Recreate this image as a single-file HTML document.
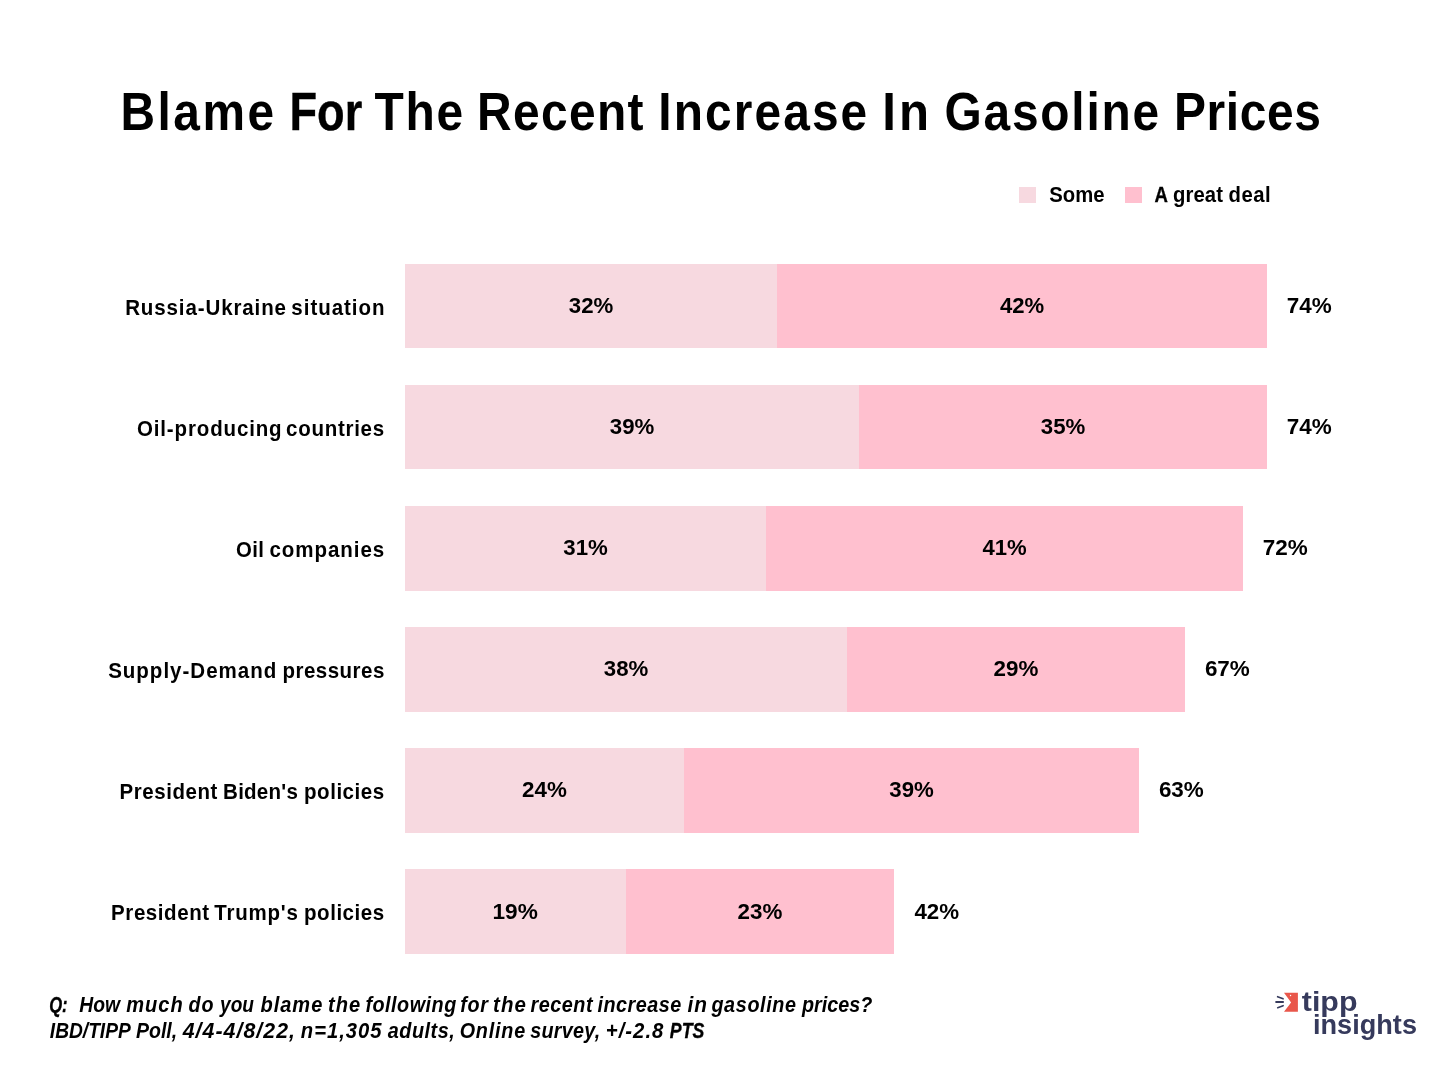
<!DOCTYPE html>
<html lang="en">
<head>
<meta charset="utf-8">
<title>Blame For The Recent Increase In Gasoline Prices</title>
<style>
html,body{margin:0;padding:0;background:#fff;}
body{width:1440px;height:1080px;position:relative;overflow:hidden;font-family:"Liberation Sans",sans-serif;color:#000;}
.g{position:absolute;left:0;top:0;width:0;height:0;margin:0;padding:0;font-size:0;line-height:0;font-weight:700;}
.t{position:absolute;left:0;white-space:nowrap;line-height:1;font-weight:700;margin:0;padding:0;transform-origin:0 0;}
.bar{position:absolute;}
.light{background:#F7D9E0;}
.dark{background:#FFC0CF;}
.foot{font-style:italic;}
.logo{color:#363a5c;}
svg{position:absolute;overflow:visible;}
</style>
</head>
<body>
<h1 class="g title"><span class="t" id="title_0" style="top:85px;font-size:53.2px;letter-spacing:2.80px;transform:translateX(120.42px) scaleX(0.8991);">Blame</span> <span class="t" id="title_1" style="top:85px;font-size:53.2px;transform:translateX(289.42px) scaleX(0.8503);-webkit-text-stroke:0.35px currentColor;">For</span> <span class="t" id="title_2" style="top:85px;font-size:53.2px;letter-spacing:1.93px;transform:translateX(374.55px) scaleX(0.9010);">The</span> <span class="t" id="title_3" style="top:85px;font-size:53.2px;letter-spacing:1.46px;transform:translateX(477.05px) scaleX(0.9017);">Recent</span> <span class="t" id="title_4" style="top:85px;font-size:53.2px;letter-spacing:2.33px;transform:translateX(658.35px) scaleX(0.8996);">Increase</span> <span class="t" id="title_5" style="top:85px;font-size:53.2px;letter-spacing:3.46px;transform:translateX(882.22px) scaleX(0.9246);">In</span> <span class="t" id="title_6" style="top:85px;font-size:53.2px;letter-spacing:1.99px;transform:translateX(944.48px) scaleX(0.8998);">Gasoline</span> <span class="t" id="title_7" style="top:85px;font-size:53.2px;letter-spacing:0.69px;transform:translateX(1173.99px) scaleX(0.9010);">Prices</span></h1>
<div class="legend">
<div class="bar light" style="left:1019px;top:187px;width:17px;height:16px"></div>
<span class="g lg"><span class="t" id="lg1_0" style="top:184px;font-size:22.0px;letter-spacing:0.05px;transform:translateX(1049.20px) scaleX(0.9214);">Some</span></span>
<div class="bar dark" style="left:1125px;top:187px;width:17px;height:16px"></div>
<span class="g lg"><span class="t" id="lg2_0" style="top:184px;font-size:22.0px;transform:translateX(1154.58px) scaleX(0.8442);-webkit-text-stroke:0.35px currentColor;">A</span> <span class="t" id="lg2_1" style="top:184px;font-size:22.0px;letter-spacing:0.10px;transform:translateX(1173.02px) scaleX(0.9208);">great</span> <span class="t" id="lg2_2" style="top:184px;font-size:22.0px;letter-spacing:0.59px;transform:translateX(1228.52px) scaleX(0.9214);">deal</span></span>
</div>
<div class="row">
<div class="g cat"><span class="t" id="cat0_0" style="top:297px;font-size:22.3px;letter-spacing:0.95px;transform:translateX(125.16px) scaleX(0.9209);">Russia-Ukraine</span> <span class="t" id="cat0_1" style="top:297px;font-size:22.3px;letter-spacing:1.05px;transform:translateX(291.37px) scaleX(0.9192);">situation</span></div>
<div class="bar light" style="left:405px;top:264px;width:372px;height:84px"></div>
<div class="bar dark" style="left:777px;top:264px;width:490px;height:84px"></div>
<div class="g val"><span class="t" id="va0_0" style="top:295px;font-size:21.8px;transform:translateX(568.79px) scaleX(1.0200);">32%</span></div>
<div class="g val"><span class="t" id="vb0_0" style="top:295px;font-size:21.8px;transform:translateX(1000.04px) scaleX(1.0140);">42%</span></div>
<div class="g val"><span class="t" id="vt0_0" style="top:295px;font-size:21.8px;transform:translateX(1286.87px) scaleX(1.0298);">74%</span></div>
</div>
<div class="row">
<div class="g cat"><span class="t" id="cat1_0" style="top:418px;font-size:22.3px;letter-spacing:0.93px;transform:translateX(136.98px) scaleX(0.9192);">Oil-producing</span> <span class="t" id="cat1_1" style="top:418px;font-size:22.3px;letter-spacing:0.79px;transform:translateX(286.02px) scaleX(0.9195);">countries</span></div>
<div class="bar light" style="left:405px;top:385px;width:454px;height:84px"></div>
<div class="bar dark" style="left:859px;top:385px;width:408px;height:84px"></div>
<div class="g val"><span class="t" id="va1_0" style="top:416px;font-size:21.8px;transform:translateX(609.79px) scaleX(1.0200);">39%</span></div>
<div class="g val"><span class="t" id="vb1_0" style="top:416px;font-size:21.8px;transform:translateX(1040.79px) scaleX(1.0200);">35%</span></div>
<div class="g val"><span class="t" id="vt1_0" style="top:416px;font-size:21.8px;transform:translateX(1286.87px) scaleX(1.0298);">74%</span></div>
</div>
<div class="row">
<div class="g cat"><span class="t" id="cat2_0" style="top:539px;font-size:22.3px;letter-spacing:0.45px;transform:translateX(235.88px) scaleX(0.9133);">Oil</span> <span class="t" id="cat2_1" style="top:539px;font-size:22.3px;letter-spacing:1.00px;transform:translateX(269.52px) scaleX(0.9210);">companies</span></div>
<div class="bar light" style="left:405px;top:506px;width:361px;height:85px"></div>
<div class="bar dark" style="left:766px;top:506px;width:477px;height:85px"></div>
<div class="g val"><span class="t" id="va2_0" style="top:537px;font-size:21.8px;transform:translateX(563.29px) scaleX(1.0200);">31%</span></div>
<div class="g val"><span class="t" id="vb2_0" style="top:537px;font-size:21.8px;transform:translateX(982.54px) scaleX(1.0140);">41%</span></div>
<div class="g val"><span class="t" id="vt2_0" style="top:537px;font-size:21.8px;transform:translateX(1262.87px) scaleX(1.0298);">72%</span></div>
</div>
<div class="row">
<div class="g cat"><span class="t" id="cat3_0" style="top:660px;font-size:22.3px;letter-spacing:1.07px;transform:translateX(108.14px) scaleX(0.9208);">Supply-Demand</span> <span class="t" id="cat3_1" style="top:660px;font-size:22.3px;letter-spacing:0.53px;transform:translateX(282.48px) scaleX(0.9187);">pressures</span></div>
<div class="bar light" style="left:405px;top:627px;width:442px;height:85px"></div>
<div class="bar dark" style="left:847px;top:627px;width:338px;height:85px"></div>
<div class="g val"><span class="t" id="va3_0" style="top:658px;font-size:21.8px;transform:translateX(603.79px) scaleX(1.0200);">38%</span></div>
<div class="g val"><span class="t" id="vb3_0" style="top:658px;font-size:21.8px;transform:translateX(993.53px) scaleX(1.0260);">29%</span></div>
<div class="g val"><span class="t" id="vt3_0" style="top:658px;font-size:21.8px;transform:translateX(1204.88px) scaleX(1.0296);">67%</span></div>
</div>
<div class="row">
<div class="g cat"><span class="t" id="cat4_0" style="top:781px;font-size:22.3px;letter-spacing:0.64px;transform:translateX(119.48px) scaleX(0.9167);">President</span> <span class="t" id="cat4_1" style="top:781px;font-size:22.3px;letter-spacing:0.26px;transform:translateX(223.06px) scaleX(0.9209);">Biden's</span> <span class="t" id="cat4_2" style="top:781px;font-size:22.3px;letter-spacing:0.56px;transform:translateX(304.06px) scaleX(0.9209);">policies</span></div>
<div class="bar light" style="left:405px;top:748px;width:279px;height:85px"></div>
<div class="bar dark" style="left:684px;top:748px;width:455px;height:85px"></div>
<div class="g val"><span class="t" id="va4_0" style="top:779px;font-size:21.8px;transform:translateX(522.03px) scaleX(1.0260);">24%</span></div>
<div class="g val"><span class="t" id="vb4_0" style="top:779px;font-size:21.8px;transform:translateX(889.29px) scaleX(1.0200);">39%</span></div>
<div class="g val"><span class="t" id="vt4_0" style="top:779px;font-size:21.8px;transform:translateX(1158.88px) scaleX(1.0296);">63%</span></div>
</div>
<div class="row">
<div class="g cat"><span class="t" id="cat5_0" style="top:902px;font-size:22.3px;letter-spacing:0.60px;transform:translateX(111.12px) scaleX(0.9203);">President</span> <span class="t" id="cat5_1" style="top:902px;font-size:22.3px;letter-spacing:0.86px;transform:translateX(214.23px) scaleX(0.9192);">Trump's</span> <span class="t" id="cat5_2" style="top:902px;font-size:22.3px;letter-spacing:0.56px;transform:translateX(304.06px) scaleX(0.9209);">policies</span></div>
<div class="bar light" style="left:405px;top:869px;width:221px;height:85px"></div>
<div class="bar dark" style="left:626px;top:869px;width:268px;height:85px"></div>
<div class="g val"><span class="t" id="va5_0" style="top:901px;font-size:21.8px;transform:translateX(492.50px) scaleX(1.0383);">19%</span></div>
<div class="g val"><span class="t" id="vb5_0" style="top:901px;font-size:21.8px;transform:translateX(737.53px) scaleX(1.0260);">23%</span></div>
<div class="g val"><span class="t" id="vt5_0" style="top:901px;font-size:21.8px;transform:translateX(914.39px) scaleX(1.0235);">42%</span></div>
</div>
<div class="g foot"><span class="t" id="foot1_0" style="top:995px;font-size:21.5px;transform:translateX(49.20px) scaleX(0.7703);-webkit-text-stroke:0.35px currentColor;">Q:</span> <span class="t" id="foot1_1" style="top:995px;font-size:21.5px;transform:translateX(79.34px) scaleX(0.8978);">How</span> <span class="t" id="foot1_2" style="top:995px;font-size:21.5px;letter-spacing:1.07px;transform:translateX(126.28px) scaleX(0.9325);">much</span> <span class="t" id="foot1_3" style="top:995px;font-size:21.5px;letter-spacing:0.98px;transform:translateX(188.60px) scaleX(0.9148);">do</span> <span class="t" id="foot1_4" style="top:995px;font-size:21.5px;transform:translateX(220.06px) scaleX(0.8870);">you</span> <span class="t" id="foot1_5" style="top:995px;font-size:21.5px;letter-spacing:1.07px;transform:translateX(260.43px) scaleX(0.9311);">blame</span> <span class="t" id="foot1_6" style="top:995px;font-size:21.5px;letter-spacing:1.07px;transform:translateX(327.96px) scaleX(0.9359);">the</span> <span class="t" id="foot1_7" style="top:995px;font-size:21.5px;letter-spacing:0.55px;transform:translateX(365.41px) scaleX(0.9200);">following</span> <span class="t" id="foot1_8" style="top:995px;font-size:21.5px;letter-spacing:0.65px;transform:translateX(460.37px) scaleX(0.9183);">for</span> <span class="t" id="foot1_9" style="top:995px;font-size:21.5px;letter-spacing:1.07px;transform:translateX(493.05px) scaleX(0.9511);">the</span> <span class="t" id="foot1_10" style="top:995px;font-size:21.5px;letter-spacing:0.55px;transform:translateX(530.48px) scaleX(0.9215);">recent</span> <span class="t" id="foot1_11" style="top:995px;font-size:21.5px;letter-spacing:0.55px;transform:translateX(597.48px) scaleX(0.9202);">increase</span> <span class="t" id="foot1_12" style="top:995px;font-size:21.5px;letter-spacing:1.07px;transform:translateX(687.41px) scaleX(0.9680);">in</span> <span class="t" id="foot1_13" style="top:995px;font-size:21.5px;letter-spacing:0.70px;transform:translateX(711.40px) scaleX(0.9191);">gasoline</span> <span class="t" id="foot1_14" style="top:995px;font-size:21.5px;transform:translateX(801.96px) scaleX(0.9190);">prices?</span></div>
<div class="g foot"><span class="t" id="foot2_0" style="top:1021px;font-size:21.5px;transform:translateX(49.84px) scaleX(0.8912);">IBD/TIPP</span> <span class="t" id="foot2_1" style="top:1021px;font-size:21.5px;transform:translateX(135.98px) scaleX(0.9076);">Poll,</span> <span class="t" id="foot2_2" style="top:1021px;font-size:21.5px;letter-spacing:1.07px;transform:translateX(182.70px) scaleX(0.9897);">4/4-4/8/22,</span> <span class="t" id="foot2_3" style="top:1021px;font-size:21.5px;letter-spacing:1.07px;transform:translateX(300.78px) scaleX(0.9404);">n=1,305</span> <span class="t" id="foot2_4" style="top:1021px;font-size:21.5px;letter-spacing:0.57px;transform:translateX(387.71px) scaleX(0.9223);">adults,</span> <span class="t" id="foot2_5" style="top:1021px;font-size:21.5px;letter-spacing:0.88px;transform:translateX(459.64px) scaleX(0.9201);">Online</span> <span class="t" id="foot2_6" style="top:1021px;font-size:21.5px;letter-spacing:0.30px;transform:translateX(530.23px) scaleX(0.9182);">survey,</span> <span class="t" id="foot2_7" style="top:1021px;font-size:21.5px;letter-spacing:1.07px;transform:translateX(605.77px) scaleX(0.9462);">+/-2.8</span> <span class="t" id="foot2_8" style="top:1021px;font-size:21.5px;transform:translateX(669.87px) scaleX(0.8230);-webkit-text-stroke:0.35px currentColor;">PTS</span></div>
<svg class="mark" width="30" height="26" viewBox="1272 988 30 26" style="left:1272px;top:988px" role="img" aria-label="tipp insights logo mark">
<polygon points="1284,992.8 1297.9,992.8 1297.9,1011.8 1284,1011.8 1291.1,1002.4" fill="#e9574b"/>
<circle cx="1290.55" cy="995.5" r="0.7" fill="#fff"/>
<g stroke="#363a5c" stroke-width="1.6" stroke-linecap="round" fill="none">
<line x1="1277.6" y1="996.7" x2="1283.1" y2="998.8"/>
<line x1="1276.1" y1="1002" x2="1283.1" y2="1002" stroke-width="1.85"/>
<line x1="1277.7" y1="1007.75" x2="1283.1" y2="1005.65"/>
</g>
</svg>
<div class="brand">
<div class="g logo"><span class="t" id="logo1_0" style="top:988px;font-size:27.5px;transform:translateX(1301.82px) scaleX(1.1031);">tipp</span></div>
<div class="g logo"><span class="t" id="logo2_0" style="top:1011px;font-size:27.5px;transform:translateX(1313.03px) scaleX(0.9858);">insights</span></div>
</div>
</body>
</html>
